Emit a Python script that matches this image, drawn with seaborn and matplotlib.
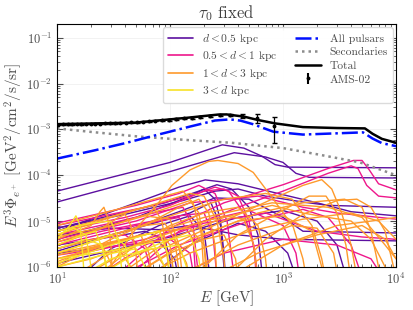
import numpy as np
import pandas as pd
import matplotlib
matplotlib.use('Agg')
import matplotlib.pyplot as plt
import seaborn as sns
from matplotlib.lines import Line2D

# Curvas de pulsares individuales (E [GeV], E^3 Phi) agrupadas por distancia
near_pulsars = [
    [(10, 4.5e-5), (100, 1.9e-4), (290, 4.6e-4), (450, 3.9e-4), (650, 2.6e-4), (850, 1.7e-4), (1100, 1.5e-4), (10000, 1.45e-4)],
    [(10, 2.6e-5), (100, 1.2e-4), (370, 3.1e-4), (700, 2.5e-4), (1000, 1.9e-4), (1300, 1.1e-4), (1700, 9e-5), (10000, 8.7e-5)],
    [(10, 6e-6), (50, 2.5e-5), (120, 5.5e-5), (205, 7.9e-5), (400, 6.5e-5), (900, 4e-5), (2000, 2.5e-5), (4000, 1.6e-5), (10000, 1.3e-5)],
    [(10, 7e-6), (40, 1.4e-5), (130, 2.8e-5), (250, 4.5e-5), (400, 5e-5), (700, 3.5e-5), (1500, 2.6e-5), (2500, 2.2e-5), (10000, 2e-5)],
    [(10, 4e-6), (50, 1.2e-5), (150, 3.5e-5), (200, 5e-5), (250, 3e-5), (280, 1e-5), (300, 2e-6), (310, 5e-7)],
    [(10, 2.5e-6), (40, 6e-6), (120, 1.6e-5), (250, 3.2e-5), (500, 3e-5), (1000, 1.2e-5), (1500, 6e-6), (10000, 5.5e-6)],
    [(10, 5e-6), (30, 7e-6), (80, 6.5e-6), (150, 8e-6), (400, 5e-6), (1000, 4e-6), (10000, 3.7e-6)],
    [(10, 7e-6), (90, 2.5e-5), (180, 4.5e-5), (260, 6.2e-5), (350, 5e-5), (500, 2e-5), (600, 5e-6), (650, 8e-7)],
    [(10, 3e-6), (30, 4.5e-6), (60, 6e-6), (90, 4e-6), (100, 1.5e-6), (105, 5e-7)],
    [(10, 2.2e-6), (50, 7e-6), (150, 1.5e-5), (230, 2.5e-5), (280, 8e-6), (300, 1e-6), (305, 5e-7)],
    [(15, 5e-7), (30, 2.5e-6), (80, 8e-6), (150, 1.3e-5), (200, 6e-6), (220, 1e-6), (225, 5e-7)],
    [(10, 1.2e-6), (100, 4.5e-6), (400, 1.2e-5), (1000, 1.7e-5), (2000, 1e-5), (3000, 3e-6), (3500, 8e-7)],
    [(60, 5e-7), (150, 3e-6), (400, 9e-6), (700, 6e-6), (1100, 2e-6), (1300, 6e-7)],
    [(10, 2e-6), (40, 3e-6), (80, 3.5e-6), (110, 1.5e-6), (120, 5e-7)],
]
mid_pulsars = [
    [(30, 5e-7), (100, 7e-6), (300, 2.5e-5), (1000, 6.2e-5), (2500, 1.4e-4), (4200, 2.1e-4), (5000, 2.1e-4), (5800, 1.3e-4), (7000, 6.5e-5), (10000, 4.8e-5)],
    [(40, 5e-7), (120, 6e-6), (400, 2e-5), (1000, 4.5e-5), (2500, 1.1e-4), (4000, 1.6e-4), (4600, 1.4e-4), (5500, 6e-5), (7000, 3.5e-5), (10000, 3.2e-5)],
    [(10, 8e-6), (60, 2e-5), (150, 3.5e-5), (250, 5.5e-5), (330, 4.5e-5), (450, 1.5e-5), (550, 3e-6), (600, 6e-7)],
    [(10, 6e-6), (40, 1.2e-5), (100, 2.2e-5), (200, 4.5e-5), (300, 5e-5), (400, 3.5e-5), (500, 1e-5), (560, 2e-6), (580, 6e-7)],
    [(10, 4e-6), (50, 1e-5), (150, 2.5e-5), (600, 3.5e-5), (1500, 2e-5), (3000, 1.5e-5), (10000, 1.1e-5)],
    [(10, 1.5e-6), (60, 4e-6), (200, 1e-5), (500, 1.7e-5), (1000, 8e-6), (1300, 2e-6), (1400, 6e-7)],
    [(10, 2.5e-6), (20, 4e-6), (40, 5e-6), (60, 2.5e-6), (70, 6e-7)],
    [(10, 5e-6), (30, 9e-6), (80, 1.6e-5), (130, 2e-5), (160, 8e-6), (175, 1e-6), (180, 5e-7)],
    [(30, 5e-7), (120, 3e-6), (500, 1e-5), (1500, 1.8e-5), (2500, 1.2e-5), (4000, 3e-6), (5000, 6e-7)],
    [(20, 5e-7), (60, 3e-6), (200, 9e-6), (700, 1.5e-5), (2000, 6e-6), (5000, 4.5e-6), (10000, 4e-6)],
    [(10, 3.5e-6), (25, 6e-6), (70, 1e-5), (120, 1.3e-5), (200, 1.5e-5), (240, 5e-6), (260, 6e-7)],
    [(100, 5e-7), (300, 2e-6), (1000, 4e-6), (3000, 3e-6), (6000, 1.5e-6), (8000, 5e-7)],
    [(10, 9e-6), (50, 2.2e-5), (120, 4e-5), (180, 6e-5), (250, 4e-5), (320, 1e-5), (360, 1e-6), (370, 5e-7)],
    [(10, 1.8e-6), (40, 3e-6), (100, 4e-6), (150, 2e-6), (165, 5e-7)],
    [(10, 3e-6), (50, 8e-6), (120, 1.2e-5), (160, 4e-6), (170, 5e-7)],
]
far_pulsars = [
    [(25, 5e-7), (45, 5e-6), (77, 2.3e-5), (104, 6e-5), (150, 1.3e-4), (220, 2e-4), (265, 2.1e-4), (400, 1.8e-4), (545, 1.15e-4), (820, 3e-5), (1230, 7.5e-6), (1500, 1.5e-6), (1600, 6e-7)],
    [(100, 3e-6), (300, 1e-5), (800, 3e-5), (1500, 6e-5), (2200, 8e-5), (2700, 5e-5), (3300, 1.5e-5), (4000, 3e-6), (4500, 6e-7)],
    [(60, 5e-7), (200, 5e-6), (600, 1.5e-5), (1500, 2.5e-5), (3500, 3e-5), (5000, 2e-5), (6000, 6e-6), (7000, 1e-6), (7500, 5e-7)],
    [(10, 2e-6), (40, 6e-6), (120, 1.5e-5), (300, 3e-5), (700, 4e-5), (1200, 3e-5), (1800, 8e-6), (2200, 1.5e-6), (2400, 5e-7)],
    [(10, 1.5e-6), (60, 5e-6), (200, 1.2e-5), (800, 2.5e-5), (2500, 2e-5), (5000, 1.2e-5), (8000, 3e-6), (10000, 1.5e-6)],
    [(10, 5e-6), (30, 1.2e-5), (80, 2.5e-5), (150, 4e-5), (200, 3.5e-5), (260, 1e-5), (300, 1.5e-6), (310, 5e-7)],
    [(10, 4e-6), (20, 8e-6), (24, 1.6e-5), (26, 2e-5), (28, 1.2e-5), (30, 3e-6), (31, 6e-7)],
    [(10, 3e-6), (25, 7e-6), (35, 1.2e-5), (40, 1.4e-5), (45, 8e-6), (50, 2e-6), (52, 6e-7)],
    [(10, 1e-6), (30, 4e-6), (70, 1e-5), (120, 2e-5), (180, 3e-5), (220, 1.5e-5), (250, 3e-6), (260, 6e-7)],
    [(20, 5e-7), (50, 3e-6), (100, 8e-6), (200, 1.5e-5), (400, 2e-5), (600, 8e-6), (700, 1.5e-6), (730, 5e-7)],
    [(10, 2.5e-6), (30, 5e-6), (60, 8e-6), (90, 9e-6), (110, 4e-6), (120, 8e-7), (122, 5e-7)],
    [(10, 1.3e-6), (20, 2.5e-6), (40, 4e-6), (55, 5e-6), (65, 2e-6), (70, 5e-7)],
    [(30, 5e-7), (100, 4e-6), (300, 1.2e-5), (800, 2.2e-5), (1500, 1.5e-5), (2500, 1.2e-5), (4000, 1e-5), (6000, 4e-6), (8000, 1e-6), (8500, 5e-7)],
    [(50, 5e-7), (150, 2e-6), (500, 6e-6), (1500, 1.1e-5), (4000, 1.5e-5), (7000, 1e-5), (10000, 4e-6)],
    [(200, 5e-7), (600, 2e-6), (2000, 5e-6), (5000, 8e-6), (8000, 4e-6), (10000, 1.5e-6)],
    [(10, 3.5e-6), (40, 1e-5), (100, 2e-5), (150, 2.8e-5), (180, 1.5e-5), (200, 3e-6), (210, 6e-7)],
    [(10, 1.8e-6), (25, 3e-6), (50, 4.5e-6), (80, 6e-6), (100, 3e-6), (110, 5e-7)],
    [(15, 5e-7), (50, 3e-6), (150, 8e-6), (300, 1.3e-5), (450, 1.1e-5), (550, 3e-6), (600, 5e-7)],
    [(100, 5e-7), (400, 3e-6), (1200, 8e-6), (2000, 7e-6), (2800, 2e-6), (3100, 5e-7)],
    [(10, 6e-6), (25, 1.1e-5), (50, 1.8e-5), (70, 2.2e-5), (85, 1e-5), (95, 1.5e-6), (100, 5e-7)],
    [(300, 5e-7), (1000, 3e-6), (3000, 8e-6), (6000, 1e-5), (10000, 1.2e-5)],
    [(10, 1e-6), (20, 1.5e-6), (35, 2.5e-6), (45, 1e-6), (50, 5e-7)],
    [(40, 5e-7), (150, 4e-6), (400, 1e-5), (1000, 1.3e-5), (1800, 6e-6), (2200, 1e-6), (2300, 5e-7)],
    [(10, 8e-6), (40, 2e-5), (90, 3.5e-5), (130, 4.5e-5), (160, 2.5e-5), (190, 5e-6), (200, 6e-7)],
    [(10, 2e-6), (30, 3.5e-6), (80, 6e-6), (150, 7e-6), (200, 3e-6), (220, 5e-7)],
    [(40, 5e-7), (100, 2e-6), (200, 4e-6), (300, 5e-6), (380, 1.5e-6), (400, 5e-7)],
    [(10, 1.1e-6), (15, 2e-6), (25, 3e-6), (30, 1.2e-6), (32, 5e-7)],
    [(12, 5e-7), (30, 2e-6), (60, 3.5e-6), (110, 4e-6), (140, 1.2e-6), (150, 5e-7)],
    [(150, 5e-7), (400, 5e-6), (900, 1.5e-5), (1700, 3.5e-5), (2400, 3.5e-5), (3000, 1.5e-5), (3600, 3e-6), (4000, 5e-7)],
    [(300, 5e-7), (700, 4e-6), (1500, 1.4e-5), (3000, 2.8e-5), (4500, 3e-5), (6000, 2e-5), (8000, 6e-6), (9500, 1e-6)],
    [(10, 4.5e-6), (30, 8e-6), (60, 1.3e-5), (100, 1.1e-5), (120, 3e-6), (130, 5e-7)],
    [(20, 5e-7), (40, 1.5e-6), (70, 2.5e-6), (90, 1e-6), (95, 5e-7)],
]
distant_pulsars = [
    [(10, 4e-6), (13, 8e-6), (14.7, 1.3e-5), (16, 8e-6), (17, 1.5e-6), (17.5, 5e-7)],
    [(10, 2e-6), (20, 3.5e-6), (30, 5e-6), (40, 3e-6), (45, 6e-7)],
    [(10, 1.2e-6), (30, 3e-6), (60, 5e-6), (80, 6e-6), (95, 2e-6), (100, 5e-7)],
    [(10, 3e-6), (15, 4.5e-6), (22, 6e-6), (26, 2e-6), (28, 5e-7)],
    [(20, 5e-7), (50, 2e-6), (100, 4e-6), (150, 5e-6), (180, 1.5e-6), (190, 5e-7)],
    [(10, 6e-6), (20, 9e-6), (30, 1e-5), (35, 4e-6), (38, 6e-7)],
    [(10, 1.5e-6), (40, 2.5e-6), (70, 3.5e-6), (90, 1e-6), (95, 5e-7)],
    [(10, 2.5e-6), (18, 4e-6), (25, 3e-6), (28, 8e-7), (29, 5e-7)],
    [(10, 1e-6), (25, 1.8e-6), (50, 2.5e-6), (60, 1e-6), (63, 5e-7)],
    [(14, 5e-7), (30, 1.5e-6), (70, 2.5e-6), (120, 3e-6), (140, 1e-6), (145, 5e-7)],
    [(10, 5e-6), (14, 7e-6), (18, 5e-6), (20, 1e-6), (21, 5e-7)],
]

# Componentes totales
total_E = [10, 49, 145, 265, 316, 450, 600, 850, 1500, 3000, 5300, 6200, 7500, 10000]
total_F = [1.3e-3, 1.4e-3, 1.8e-3, 2.1e-3, 2.12e-3, 1.9e-3, 1.6e-3, 1.35e-3, 1.12e-3, 1.07e-3, 1.05e-3, 8e-4, 6.2e-4, 5.1e-4]
allpsr_E = [10, 21.7, 40, 74, 150, 250, 340, 420, 540, 820, 1500, 3000, 5100, 6200, 7500, 10000]
allpsr_F = [2.3e-4, 3.5e-4, 5e-4, 7.4e-4, 1.15e-3, 1.56e-3, 1.65e-3, 1.55e-3, 1.3e-3, 8.9e-4, 7.7e-4, 8.2e-4, 8.6e-4, 6.3e-4, 5e-4, 4.3e-4]
sec_E = [10, 20, 52, 150, 350, 1000, 2100, 4800, 10000]
sec_F = [1.05e-3, 8.8e-4, 7e-4, 5.8e-4, 5.1e-4, 3.9e-4, 2.8e-4, 1.9e-4, 1e-4]

# Datos AMS-02
ams_E = [10.3, 11.3, 12.4, 13.6, 14.9, 16.4, 18.0, 19.8, 21.8, 24.1, 26.6, 29.4, 32.6, 36.3, 40.5, 45.3,
         50.9, 57.5, 65.1, 74.1, 84.8, 97.6, 113, 132, 156, 186, 227, 277, 337, 430, 590, 830]
ams_F = [1.27e-3, 1.28e-3, 1.28e-3, 1.29e-3, 1.30e-3, 1.29e-3, 1.31e-3, 1.32e-3, 1.33e-3, 1.33e-3, 1.35e-3,
         1.36e-3, 1.37e-3, 1.38e-3, 1.40e-3, 1.43e-3, 1.44e-3, 1.47e-3, 1.50e-3, 1.55e-3, 1.58e-3, 1.62e-3,
         1.67e-3, 1.74e-3, 1.80e-3, 1.88e-3, 1.97e-3, 2.03e-3, 2.05e-3, 1.95e-3, 1.80e-3, 1.20e-3]
ams_err = [2e-5, 2e-5, 2e-5, 2e-5, 2e-5, 2e-5, 2e-5, 2e-5, 2e-5, 3e-5, 3e-5, 3e-5, 3e-5, 3e-5, 3e-5, 4e-5,
           4e-5, 4e-5, 5e-5, 5e-5, 5e-5, 6e-5, 6e-5, 7e-5, 8e-5, 9e-5, 1e-4, 1.1e-4, 1.3e-4, 2e-4, 4e-4, 7e-4]

group_labels = [r'$d < 0.5$ kpc', r'$0.5 < d < 1$ kpc', r'$1 < d < 3$ kpc', r'$3 < d$ kpc']
group_colors = ['#5c10a0', '#ee178b', '#fe9a2c', '#f7e128']

# Tabla larga para seaborn
rows = []
uid = 0
for lab, curves in zip(group_labels, [near_pulsars, mid_pulsars, far_pulsars, distant_pulsars]):
    for c in curves:
        for e, f in c:
            rows.append((uid, lab, e, f))
        uid += 1
df = pd.DataFrame(rows, columns=['psr', 'grupo', 'E', 'F'])

sns.set_style('ticks')
plt.rcParams['font.family'] = ['cmr10', 'DejaVu Serif']
plt.rcParams['mathtext.fontset'] = 'cm'
plt.rcParams['axes.formatter.use_mathtext'] = True
plt.rcParams['axes.unicode_minus'] = False

fig, ax = plt.subplots(figsize=(4.13, 3.10), dpi=100)
fig.subplots_adjust(left=0.138, right=0.959, bottom=0.139, top=0.923)

sns.lineplot(data=df, x='E', y='F', hue='grupo', units='psr', estimator=None,
             palette=dict(zip(group_labels, group_colors)), hue_order=group_labels,
             lw=1.0, legend=False, ax=ax)

sns.lineplot(x=sec_E, y=sec_F, color='0.55', lw=1.8, ls=(0, (1, 1.6)), ax=ax)
sns.lineplot(x=allpsr_E, y=allpsr_F, color='#0010ff', lw=1.8, ls='-.', ax=ax)
sns.lineplot(x=total_E, y=total_F, color='black', lw=1.8, ax=ax)
ax.errorbar(ams_E, ams_F, yerr=ams_err, fmt='o', ms=1.8, color='black', lw=0.9, capsize=1.8, zorder=5)

ax.set_xscale('log')
ax.set_yscale('log')
ax.set_xlim(10, 1e4)
ax.set_ylim(1e-6, 0.2)
ax.grid(True, which='major', color='0.94', lw=0.6)
ax.tick_params(which='both', direction='in', top=True, right=True, labelsize=9, colors='0.3')
ax.tick_params(which='major', length=4)
ax.tick_params(which='minor', length=2)
for s in ax.spines.values():
    s.set_color('black')
ax.set_title(r'$\tau_0$ fixed', fontsize=12, color='0.25', pad=4)
ax.set_xlabel(r'$E$ [GeV]', fontsize=11, color='0.3', labelpad=1)
ax.set_ylabel(r'$E^3\Phi_{e^+}$ [GeV$^2$/cm$^2$/s/sr]', fontsize=11, color='0.3', labelpad=1)

handles = [Line2D([], [], color=c, lw=1.2) for c in group_colors]
handles += [Line2D([], [], color='#0010ff', lw=1.8, ls='-.'),
            Line2D([], [], color='0.55', lw=1.8, ls=(0, (1, 1.6))),
            Line2D([], [], color='black', lw=1.8),
            ax.errorbar([], [], yerr=[], fmt='o', ms=1.8, color='black', capsize=1.8)]
labels = group_labels + ['All pulsars', 'Secondaries', 'Total', 'AMS-02']
leg = ax.legend(handles, labels, ncol=2, loc='upper right', fontsize=8.3, frameon=True,
                fancybox=True, edgecolor='0.85', framealpha=0.95, borderaxespad=0.3,
                handlelength=2.2, columnspacing=1.5, labelspacing=0.3)
for t in leg.get_texts():
    t.set_color('0.3')

plt.savefig('out.png', dpi=100)
